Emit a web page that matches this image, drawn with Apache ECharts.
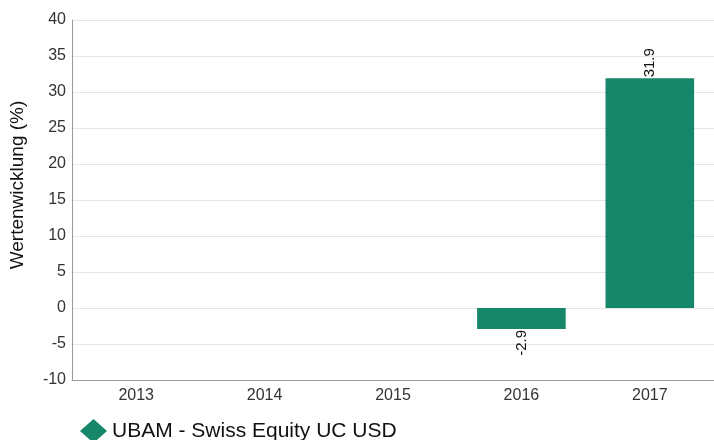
<!DOCTYPE html>
<html>
<head>
<meta charset="utf-8">
<script src="https://cdn.jsdelivr.net/npm/echarts@6/dist/echarts.min.js"></script>
<style>
  html, body { margin: 0; padding: 0; background: #fff; }
  #chart { width: 714px; height: 440px; }
</style>
</head>
<body>
<div id="chart"></div>
<script>
// Daten
const years = ["2013", "2014", "2015", "2016", "2017"];
const values = [null, null, null, -2.9, 31.9];
const seriesName = "UBAM - Swiss Equity UC USD";
const barColor = "#17876a";
const fontFam = "Liberation Sans, Arial, sans-serif";

const myChart = echarts.init(document.getElementById("chart"));

const option = {
  animation: false,
  grid: { left: 71, right: -2, top: 20, bottom: 60 },
  legend: {
    left: 75,
    top: 414,
    icon: "diamond",
    itemWidth: 27,
    itemHeight: 24,
    itemGap: 10,
    textStyle: { color: "#111", fontSize: 21, fontFamily: fontFam },
    data: [seriesName]
  },
  xAxis: {
    type: "category",
    data: years,
    axisLine: { onZero: false, lineStyle: { color: "#9a9a9a" } },
    axisTick: { show: false },
    axisLabel: { color: "#333", fontSize: 16, margin: 8, fontFamily: fontFam }
  },
  yAxis: {
    type: "value",
    min: -10,
    max: 40,
    interval: 5,
    name: "Wertenwicklung (%)",
    nameLocation: "middle",
    nameGap: 45,
    nameRotate: 90,
    nameTextStyle: { color: "#111", fontSize: 19, fontFamily: fontFam, padding: [0, 0, 0, 30] },
    axisLine: { show: true, lineStyle: { color: "#9a9a9a" } },
    axisTick: { show: false },
    axisLabel: { color: "#333", fontSize: 16, margin: 6, fontFamily: fontFam },
    splitLine: { lineStyle: { color: "#e6e6e6" } }
  },
  series: [
    {
      name: seriesName,
      type: "bar",
      barWidth: "69%",
      itemStyle: { color: barColor },
      data: values.map(v => {
        if (v == null) return v;
        return {
          value: v,
          label: v >= 0
            ? { show: true, position: "top", rotate: 90, align: "left", verticalAlign: "middle", distance: 1 }
            : { show: true, position: "bottom", rotate: 90, align: "right", verticalAlign: "middle", distance: 1 }
        };
      }),
      label: { color: "#111", fontSize: 15, fontFamily: fontFam }
    }
  ]
};

myChart.setOption(option, true);
</script>
</body>
</html>
